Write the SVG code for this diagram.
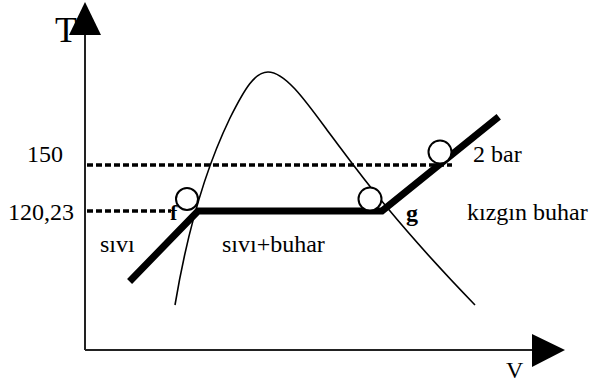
<svg xmlns="http://www.w3.org/2000/svg" width="595" height="384" viewBox="0 0 595 384">
<style>
.t{font-family:"Liberation Serif","Times New Roman",serif;fill:#000}
.axis{stroke:#222;stroke-width:2;fill:none}
.dash{stroke:#000;stroke-width:3.5;stroke-dasharray:6,3;fill:none}
.thick{stroke:#000;stroke-width:7;fill:none;stroke-linecap:square}
.thin{stroke:#000;stroke-width:1.6;fill:none}
.pt{fill:#fff;stroke:#000;stroke-width:2}
</style>
<rect width="595" height="384" fill="#fff"/>
<g id="axes">
<line class="axis" x1="85" y1="30" x2="85" y2="350"/>
<line class="axis" x1="85" y1="350" x2="535" y2="350"/>
<polygon points="85,2 69,35 101,35" fill="#000"/>
<polygon points="565,350 532,334 532,367" fill="#000"/>
<text class="t" x="55" y="42" font-size="36">T</text>
<text class="t" x="506" y="378" font-size="24">V</text>
</g>
<g id="connectors">
<line class="dash" x1="87" y1="165" x2="452" y2="165"/>
<line class="dash" x1="87" y1="211" x2="171" y2="211"/>
<path class="thin" d="M175,305 C185,245 200,180 230,118 C245,88 255,72 268,72 C285,72 305,100 327,130 C350,160 385,212 475,305"/>
<polyline class="thick" points="132,279 198,211 382,211 496,119"/>
</g>
<g id="p-f"><circle class="pt" cx="187" cy="199" r="11"/></g>
<g id="p-g"><circle class="pt" cx="370" cy="199" r="11.5"/></g>
<g id="p-2bar"><circle class="pt" cx="440" cy="152" r="11.5"/></g>
<g id="labels">
<text class="t" x="27" y="162" font-size="24">150</text>
<text class="t" x="8" y="220" font-size="24">120,23</text>
<text class="t" x="170" y="220" font-size="22" font-weight="bold">f</text>
<text class="t" x="406" y="221" font-size="24" font-weight="bold">g</text>
<text class="t" x="100" y="252" font-size="24">sıvı</text>
<text class="t" x="222" y="252" font-size="24">sıvı+buhar</text>
<text class="t" x="467" y="220" font-size="24">kızgın buhar</text>
<text class="t" x="473" y="162" font-size="24">2 bar</text>
</g>
</svg>
